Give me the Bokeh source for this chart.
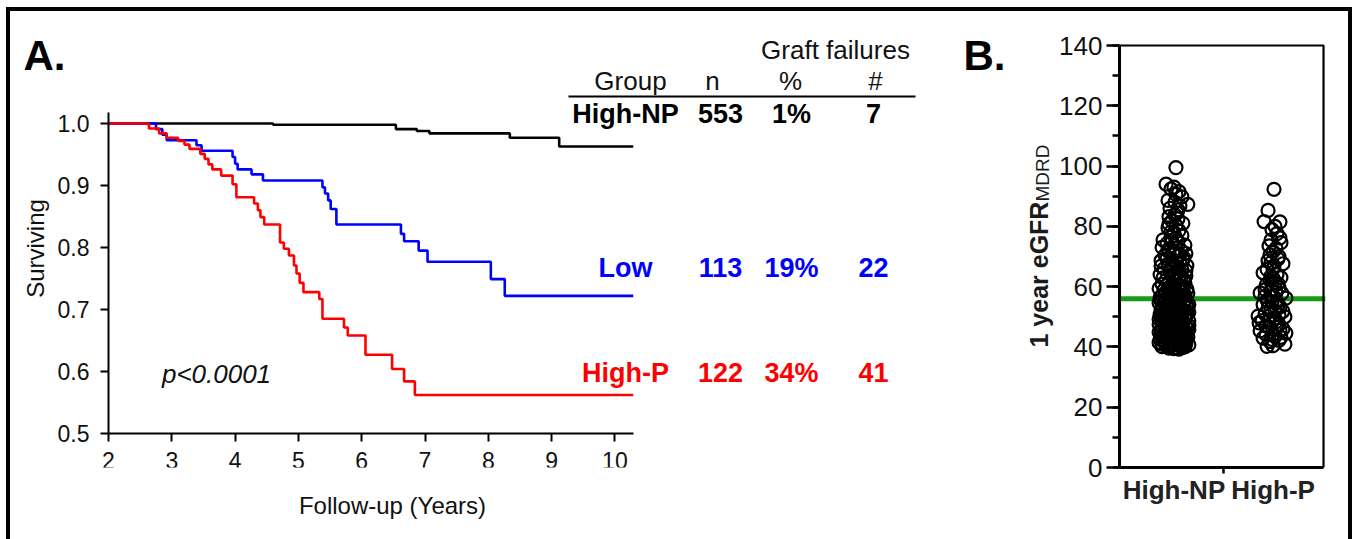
import math
from bokeh.plotting import figure
from bokeh.layouts import row
from bokeh.models import (Label, Span, FixedTicker, SingleIntervalTicker, PrintfTickFormatter,
                          BoxAnnotation)
from bokeh.core.properties import value
from bokeh.embed import file_html
from bokeh.resources import INLINE

FONT = "Liberation Sans"
TXT = "#111111"

# ---------------- Panel A data: Kaplan-Meier graft survival ----------------
hnp_t = [2.0, 4.60, 6.54, 6.87, 7.07, 8.34, 9.12, 10.29]
hnp_s = [1.0, 0.998, 0.991, 0.988, 0.984, 0.977, 0.963, 0.963]

low_t = [2.0, 2.75, 2.85, 2.92, 3.39, 3.47, 3.96, 4.00, 4.04, 4.26, 4.44,
         5.38, 5.42, 5.47, 5.51, 5.60, 6.62, 6.67, 6.90, 7.04, 8.04, 8.26, 10.29]
low_s = [1.0, 0.991, 0.982, 0.973, 0.965, 0.956, 0.946, 0.935, 0.926, 0.918, 0.908,
         0.897, 0.887, 0.876, 0.862, 0.837, 0.822, 0.810, 0.795, 0.777, 0.749, 0.722, 0.722]

hp_t = [2.0, 2.64, 2.80, 2.92, 3.10, 3.20, 3.28, 3.45, 3.52, 3.58, 3.64, 3.78, 3.96,
        4.02, 4.30, 4.36, 4.40, 4.46, 4.71, 4.77, 4.85, 4.93, 4.97, 5.02, 5.08,
        5.33, 5.38, 5.72, 5.78, 6.06, 6.48, 6.67, 6.84, 10.29]
hp_s = [1.0, 0.992, 0.984, 0.977, 0.972, 0.966, 0.959, 0.951, 0.943, 0.934, 0.926, 0.916, 0.902,
        0.881, 0.871, 0.860, 0.849, 0.837, 0.808, 0.798, 0.787, 0.771, 0.758, 0.743, 0.728,
        0.717, 0.685, 0.671, 0.658, 0.627, 0.604, 0.584, 0.562, 0.562]

x_ticks = [2, 3, 4, 5, 6, 7, 8, 9, 10]
y_ticks = [0.5, 0.6, 0.7, 0.8, 0.9, 1.0]

# Table
tbl_groups = ["High-NP", "Low", "High-P"]
tbl_n = ["553", "113", "122"]
tbl_pct = ["1%", "19%", "34%"]
tbl_num = ["7", "22", "41"]
tbl_colors = ["#000000", "#0000ff", "#ff0000"]
tbl_header = ["Group", "n", "%", "#"]
p_text = "p<0.0001"

# ---------------- Panel B data: 1 year eGFR (value, horizontal scatter offset) ----------------
b_groups = ["High-NP", "High-P"]
hnp_pts = [
    (99.5, 0.02), (94.0, -0.08), (93.0, 0.00), (92.4, -0.03), (91.5, 0.05), (90.6, 0.02),
    (89.8, 0.08), (88.6, -0.06), (88.0, 0.01), (87.3, 0.14), (86.8, 0.06), (86.0, -0.04),
    (84.5, 0.03), (83.2, -0.05), (82.5, 0.04), (81.8, -0.02), (81.0, 0.09), (80.3, 0.02),
    (79.5, -0.06), (78.6, 0.05), (77.8, 0.00), (77.0, 0.08), (76.4, -0.03), (75.5, -0.11),
    (75.0, 0.04), (74.3, -0.07), (73.8, 0.11), (73.0, -0.12), (72.6, 0.02), (72.0, 0.07),
    (71.5, -0.05), (71.0, 0.12), (70.4, -0.09), (70.0, 0.03), (69.5, 0.10), (69.0, -0.02),
    (68.6, -0.13), (68.2, 0.06), (67.5, -0.06), (67.0, 0.13), (66.5, 0.00), (66.0, -0.10),
    (65.6, 0.08), (65.0, -0.04), (64.5, 0.04), (64.0, -0.14), (63.6, 0.12), (63.1, -0.01),
    (62.6, 0.07), (62.1, -0.08), (61.7, 0.02), (61.2, 0.11), (60.8, -0.12), (60.3, 0.05),
    (59.9, -0.04), (59.4, -0.15), (59.0, 0.09), (58.6, 0.00), (58.2, -0.08), (57.8, 0.14),
    (57.4, 0.04), (57.0, -0.12), (56.6, 0.08), (56.2, -0.03), (55.8, 0.12), (55.4, -0.09),
    (55.0, 0.02), (54.6, -0.15), (54.3, 0.10), (54.0, -0.05), (53.6, 0.06), (53.2, -0.12),
    (52.9, 0.14), (52.5, 0.00), (52.1, -0.08), (51.8, 0.09), (51.4, -0.02), (51.0, 0.13),
    (50.7, -0.14), (50.3, 0.05), (50.0, -0.06), (49.6, 0.11), (49.3, -0.10), (48.9, 0.02),
    (48.6, 0.15), (48.2, -0.04), (47.9, 0.07), (47.5, -0.15), (47.2, 0.12), (46.8, -0.01),
    (46.5, -0.09), (46.1, 0.08), (45.8, 0.15), (45.4, -0.13), (45.1, 0.03), (44.7, -0.06),
    (44.4, 0.10), (44.0, -0.11), (43.7, 0.05), (43.3, 0.14), (43.0, -0.03), (42.6, -0.14),
    (42.3, 0.08), (41.9, 0.00), (41.6, -0.08), (41.2, 0.12), (40.9, -0.12), (40.6, 0.04),
    (40.2, -0.04), (39.8, 0.08), (39.4, 0.00),
    (61.5, -0.05), (60.0, 0.09), (58.9, -0.10), (57.6, 0.01), (56.9, -0.06), (56.0, 0.05),
    (55.2, 0.10), (54.8, -0.02), (53.9, 0.13), (53.4, -0.08), (52.7, 0.04), (52.3, -0.13),
    (51.6, 0.07), (51.2, -0.05), (50.5, 0.01), (50.2, 0.12), (49.8, -0.11), (49.1, 0.05),
    (48.8, -0.07), (48.4, 0.09), (47.7, -0.02), (47.0, 0.04), (46.6, -0.12), (46.3, 0.13),
    (45.6, -0.05), (45.2, 0.07), (44.9, -0.15), (44.2, 0.01), (43.9, 0.12), (43.5, -0.09),
    (42.8, 0.03), (42.4, -0.05), (42.0, 0.11), (41.4, -0.15), (41.0, 0.07), (40.4, -0.08),
    (40.0, 0.11), (39.6, -0.05), (39.3, 0.05),
    (74.8, -0.02), (72.3, -0.06), (70.7, 0.06), (69.3, -0.07), (67.8, 0.03), (66.8, -0.13),
    (65.3, 0.12), (64.2, 0.00), (62.9, -0.11), (62.3, 0.10),
    (55.6, 0.00), (53.0, 0.07), (50.8, -0.10), (49.4, 0.00), (47.4, 0.09), (46.0, -0.03),
    (44.6, 0.05), (43.1, -0.08), (41.7, 0.05), (40.7, 0.15), (48.0, -0.12), (52.0, 0.10),
    (54.4, -0.10), (57.2, 0.11), (58.4, 0.06), (59.6, 0.00),
    (55.3, -0.13), (54.1, 0.15), (53.5, 0.00), (52.8, -0.05), (52.2, 0.06), (51.5, 0.15),
    (50.9, 0.03), (50.4, -0.12), (49.9, 0.08), (49.2, -0.15), (48.5, 0.00), (47.8, -0.09),
    (47.1, 0.15), (46.7, 0.06), (46.2, -0.07), (45.5, 0.10), (45.0, -0.09), (44.5, -0.01),
    (43.8, 0.08), (43.4, -0.12), (42.9, 0.12), (42.1, -0.10), (41.5, 0.02), (41.1, -0.04),
    (40.5, 0.10), (40.1, -0.12), (39.7, 0.02), (56.4, -0.14), (57.9, -0.03), (59.2, 0.13),
    (60.6, 0.01), (63.9, 0.06), (65.9, 0.05), (68.9, 0.09), (71.2, -0.01), (76.0, 0.02),
    (78.2, -0.03), (80.8, -0.05), (83.7, 0.01), (85.5, 0.04),
]
hp_pts = [
    (92.3, 0.01), (85.3, -0.05), (81.6, -0.09), (81.5, 0.07), (80.0, 0.02), (78.9, -0.01),
    (77.6, 0.04), (76.2, 0.07), (75.4, -0.02), (74.6, 0.08), (73.5, -0.04), (72.7, 0.03),
    (71.6, 0.00), (70.5, -0.03), (69.2, 0.05), (68.6, -0.05), (67.6, 0.10), (66.8, 0.01),
    (65.7, -0.06), (64.6, -0.10), (64.0, 0.04), (63.0, 0.08), (62.2, -0.03), (61.3, 0.02),
    (60.4, -0.07), (59.7, 0.06), (58.8, -0.02), (57.9, -0.13), (57.8, 0.09), (57.0, 0.00),
    (56.2, 0.13), (55.5, -0.06), (54.8, 0.04), (54.0, -0.10), (53.3, 0.07), (52.6, -0.02),
    (51.8, 0.10), (51.0, -0.08), (50.2, -0.15), (50.0, 0.12), (49.5, 0.02), (48.7, -0.11),
    (48.0, -0.14), (47.4, 0.06), (46.6, -0.04), (46.0, 0.10), (45.3, -0.13), (44.6, 0.13),
    (44.2, -0.07), (43.6, 0.02), (42.9, -0.10), (42.2, 0.06), (41.8, -0.03), (40.9, 0.12),
    (40.4, 0.00), (40.2, -0.06),
    (66.0, 0.00), (63.5, -0.02), (61.0, 0.05), (58.0, 0.03), (55.0, -0.01), (52.0, 0.02),
    (49.0, -0.04), (46.5, 0.04), (44.0, 0.00), (42.5, -0.01), (59.0, -0.08), (53.8, 0.05),
    (50.6, 0.06), (47.0, -0.07),
    (56.8, -0.08), (52.9, -0.05), (48.3, 0.03), (45.6, 0.07), (43.2, 0.08), (60.9, -0.01),
    (62.8, 0.00), (68.0, -0.02), (70.0, 0.06),
]
hnp_egfr = [v for v, _ in hnp_pts]
hnp_off = [d for _, d in hnp_pts]
hp_egfr = [v for v, _ in hp_pts]
hp_off = [d for _, d in hp_pts]
egfr_line = 56.0

# ---------------- geometry (page pixels) ----------------
H = 528                 # canvas height (page y 11 .. 539)
BOT = 72                # bottom border shared by both figures (frames end at page y 467)
A_X0C, B_X0C, RIGHT = 10, 1056, 1348   # canvas left edges / right edge
A_X0, A_PXY = 108.0, 63.3        # page x of year 2, px per year
A_Y0, A_PXU = 433.0, 620.0       # page y of survival 0.5, px per unit
B_X0, B_PXU = 1117.0, 100.0      # page x of category-axis start (0.45), px per unit
B_Y0, B_PXV = 467.0, 422.0 / 140.0


def xa(px):
    return 2 + (px - A_X0) / A_PXY


def ya(py):
    return 0.5 + (A_Y0 - py) / A_PXU


def common(p):
    p.grid.visible = False
    p.outline_line_color = None
    p.background_fill_color = "white"
    p.border_fill_color = "white"


# ---------------- Panel A figure ----------------
pA = figure(width=B_X0C - A_X0C, height=H, x_range=(xa(A_X0C), xa(B_X0C)),
            y_range=(ya(467), ya(11)), y_axis_location="right",
            output_backend="svg", toolbar_location=None,
            min_border_left=0, min_border_right=0, min_border_top=0, min_border_bottom=BOT)
common(pA)
for ax in (pA.xaxis[0], pA.yaxis[0]):
    ax.axis_line_width = 2
    ax.axis_line_color = "black"
    ax.major_tick_line_width = 2
    ax.major_tick_line_color = "black"
    ax.minor_tick_out = 0
    ax.minor_tick_in = 0
    ax.major_label_text_font = FONT
    ax.major_label_text_font_size = "23px"
    ax.major_label_text_color = TXT
pA.xaxis.ticker = FixedTicker(ticks=x_ticks)
pA.xaxis.bounds = (2, 10.29)
pA.xaxis.fixed_location = 0.5
pA.xaxis.major_tick_in = 0
pA.xaxis.major_tick_out = 8
pA.xaxis.major_label_standoff = 10
# y axis sits at year 2; ticks and labels point left
pA.yaxis.ticker = FixedTicker(ticks=y_ticks)
pA.yaxis.formatter = PrintfTickFormatter(format="%.1f")
pA.yaxis.bounds = (0.5, 1.018)
pA.yaxis.fixed_location = 2
pA.yaxis.major_tick_in = 8
pA.yaxis.major_tick_out = 0
pA.yaxis.major_label_standoff = -51

pA.step(hnp_t, hnp_s, mode="after", line_color="black", line_width=2.6)
pA.step(low_t, low_s, mode="after", line_color="#0000ff", line_width=2.6)
pA.step(hp_t, hp_s, mode="after", line_color="#ff0000", line_width=2.6)

pA.add_layout(Label(x=xa(23), y=ya(55), text="A.", text_font=FONT, text_font_size="42px",
                    text_font_style="bold", text_align="left", text_baseline="alphabetic",
                    text_color="black"))
pA.add_layout(Label(x=xa(35), y=ya(248), text="Surviving", angle=math.pi / 2, text_font=FONT,
                    text_font_size="24px", text_align="center", text_baseline="middle",
                    text_color=TXT))
pA.add_layout(Label(x=xa(392), y=ya(505), text="Follow-up (Years)", text_font=FONT,
                    text_font_size="24px", text_align="center", text_baseline="middle",
                    text_color=TXT), "below")
pA.add_layout(Label(x=xa(216), y=ya(373), text=p_text, text_font=FONT, text_font_size="26px",
                    text_font_style="italic", text_align="center", text_baseline="middle",
                    text_color=TXT))

# table of graft failures
col_px = [625, 720, 791, 873]
head_px = [630, 712, 790, 875]
row_py = [113, 267, 372]
pA.text(x=[xa(835)], y=[ya(49)], text=["Graft failures"], text_font=value(FONT),
        text_font_size="26px", text_align="center", text_baseline="middle", text_color=TXT)
pA.text(x=[xa(c) for c in head_px], y=[ya(80)] * 4, text=tbl_header, text_font=value(FONT),
        text_font_size="26px", text_align="center", text_baseline="middle", text_color=TXT)
pA.segment(x0=[xa(568)], y0=[ya(96)], x1=[xa(915)], y1=[ya(96)], line_color="black", line_width=2)
for i in range(3):
    pA.text(x=[xa(c) for c in col_px], y=[ya(row_py[i])] * 4,
            text=[tbl_groups[i], tbl_n[i], tbl_pct[i], tbl_num[i]],
            text_font=value(FONT), text_font_size="27px", text_font_style="bold",
            text_align="center", text_baseline="middle", text_color=tbl_colors[i])

# panel B letter and y title (drawn in the free area of A's canvas)
pA.add_layout(Label(x=xa(963), y=ya(55), text="B.", text_font=FONT, text_font_size="42px",
                    text_font_style="bold", text_align="left", text_baseline="alphabetic",
                    text_color="black"))
pA.add_layout(Label(x=xa(1038), y=ya(347), text="1 year eGFR", angle=math.pi / 2,
                    text_font=FONT, text_font_size="25px", text_font_style="bold",
                    text_align="left", text_baseline="alphabetic", text_color="#1a1a1a"))
pA.add_layout(Label(x=xa(1042), y=ya(201), text="MDRD", angle=math.pi / 2,
                    text_font=FONT, text_font_size="19px", text_align="left",
                    text_baseline="alphabetic", text_color="#1a1a1a"))

# ---------------- Panel B figure ----------------
b_right = 0.45 + (RIGHT - 23 - B_X0) / B_PXU
pB = figure(width=RIGHT - B_X0C, height=H, x_range=(0.45, b_right),
            y_range=(0, (B_Y0 - 11) / B_PXV),
            output_backend="svg", toolbar_location=None,
            min_border_left=int(B_X0 - B_X0C), min_border_right=23, min_border_top=0,
            min_border_bottom=BOT)
common(pB)
for ax in (pB.xaxis[0], pB.yaxis[0]):
    ax.axis_line_width = 3
    ax.axis_line_color = "black"
    ax.major_tick_line_width = 2.5
    ax.minor_tick_line_width = 2.5
    ax.major_tick_in = 0
    ax.minor_tick_in = 0
    ax.major_label_text_font = FONT
    ax.major_label_text_color = TXT
pB.yaxis.ticker = SingleIntervalTicker(interval=20, num_minor_ticks=2)
pB.yaxis.bounds = (0, 140)
pB.yaxis.major_tick_out = 13
pB.yaxis.minor_tick_out = 7
pB.yaxis.major_label_text_font_size = "26px"
pB.yaxis.major_label_standoff = 4
pB.xaxis.ticker = FixedTicker(ticks=[1, 2], minor_ticks=[1.5])
pB.xaxis.major_label_overrides = {1: b_groups[0], 2: b_groups[1]}
pB.xaxis.bounds = (0.45, 2.51)
pB.xaxis.major_tick_out = 0
pB.xaxis.minor_tick_out = 6
pB.xaxis.major_label_text_font_size = "26px"
pB.xaxis.major_label_text_font_style = "bold"
pB.xaxis.major_label_text_color = "#222222"
pB.xaxis.major_label_standoff = 1

pB.add_layout(BoxAnnotation(left=0.45, right=2.51, bottom=0, top=140, fill_alpha=0,
                            line_color="black", line_alpha=1.0, line_width=2.2))
pB.add_layout(Span(location=egfr_line, dimension="width", line_color="#1a9a1a",
                   line_width=5, level="underlay"))
pB.scatter(x=[1 + d for d in hnp_off], y=hnp_egfr, marker="circle", size=13,
           fill_color=None, line_color="black", line_width=2.2)
pB.scatter(x=[2 + d for d in hp_off], y=hp_egfr, marker="circle", size=13,
           fill_color=None, line_color="black", line_width=2.2)

layout = row(pA, pB, margin=(7, 0, 0, 6),
             styles={"border-top": "4px solid black", "border-left": "4px solid black",
                     "border-right": "4px solid black"})

open("out.html", "w").write(file_html(layout, INLINE))
